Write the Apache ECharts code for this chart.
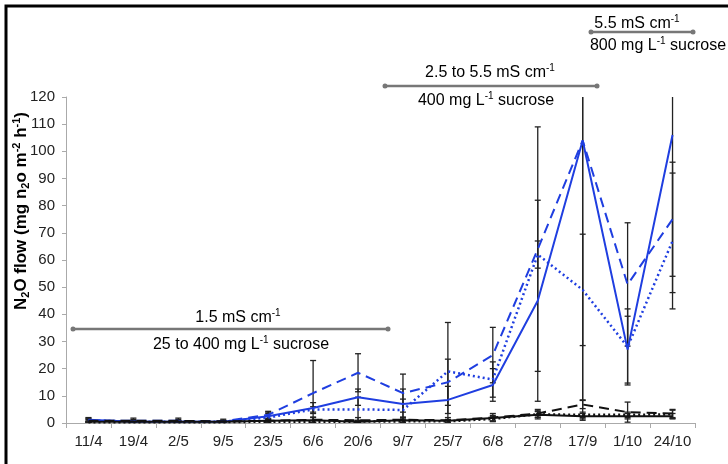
<!DOCTYPE html>
<html lang="en">
<head>
  <meta charset="UTF-8">
  <title>N2O flow</title>
  <script src="https://cdn.jsdelivr.net/npm/echarts@6/dist/echarts.min.js"></script>
  <style>
    html, body { margin: 0; padding: 0; background: #fff; }
    #main { width: 728px; height: 464px; }
  </style>
</head>
<body>
<div id="main"></div>
<script>
  // sampling dates
  var dates = ['11/4','19/4','2/5','9/5','23/5','6/6','20/6','9/7','25/7','6/8','27/8','17/9','1/10','24/10'];

  // blue treatments (value and +/- error)
  var blueSolid     = [1.2, 0.5, 0.5, 0.5, 2.5, 5.5, 9.5, 7, 8.5, 14, 45, 104, 27, 106];
  var blueSolidErr  = [0.8, 0.4, 0.4, 0.4, 1, 2, 3, 5.5, 5, 6, 37, 95.5, 12.3, 58];
  var blueDashed    = [0.8, 0.8, 0.8, 0.6, 3, 11, 18.5, 11, 15, 25, 64, 104, 51, 75];
  var blueDashedErr = [0.5, 0.5, 0.5, 0.4, 1.3, 12, 7, 7, 8.5, 10.2, 45, 103, 22.7, 21];
  var blueDotted    = [1, 0.5, 0.5, 0.5, 2, 5, 5, 4.8, 19, 16, 62, 49, 28, 67];
  var blueDottedErr = [0.5, 0.4, 0.4, 0.4, 0.8, 1, 4.5, 4, 18, 6.5, 5, 20.5, 14, 25];

  // black treatments
  var blackSolid     = [0.5, 0.5, 0.5, 0.5, 0.8, 1, 0.5, 1, 0.8, 1.8, 3, 2.5, 2.5, 2.5];
  var blackSolidErr  = [0.3, 0.3, 0.3, 0.3, 0.5, 1, 0.5, 1, 0.5, 1, 1.5, 1, 1, 1];
  var blackDashed    = [0.8, 0.8, 0.8, 0.6, 0.8, 1.2, 1, 1.2, 1, 2, 3.5, 6.8, 4, 3.5];
  var blackDashedErr = [1, 1, 1, 0.8, 3.2, 1, 1, 1, 1, 1.5, 1.5, 1.5, 3.7, 1.5];
  var blackDotted    = [0.3, 0.3, 0.3, 0.3, 0.5, 0.5, 0.5, 0.6, 0.6, 1.5, 3.2, 3, 3, 3.2];
  var blackDottedErr = [0.3, 0.3, 0.3, 0.3, 0.4, 0.4, 0.4, 0.5, 0.5, 0.8, 1, 1, 1, 1.5];

  var blue = '#1f3ee0';
  var black = '#111';
  var grey = '#777';

  var lines = [
    { name: 'b1', data: blueSolid, err: blueSolidErr, color: blue, type: 'solid', width: 2 },
    { name: 'b2', data: blueDashed, err: blueDashedErr, color: blue, type: [10, 6], width: 2 },
    { name: 'b3', data: blueDotted, err: blueDottedErr, color: blue, type: [2, 3], width: 2.5 },
    { name: 'k1', data: blackSolid, err: blackSolidErr, color: black, type: 'solid', width: 2 },
    { name: 'k2', data: blackDashed, err: blackDashedErr, color: black, type: [10, 6], width: 2 },
    { name: 'k3', data: blackDotted, err: blackDottedErr, color: black, type: [2, 3], width: 2.5 }
  ];

  function errorBar(params, api) {
    var x = api.value(0);
    var lo = api.coord([x, api.value(1)]);
    var hi = api.coord([x, api.value(2)]);
    var w = 3;
    var st = { stroke: '#222', lineWidth: 1.3 };
    return {
      type: 'group',
      children: [
        { type: 'line', shape: { x1: lo[0], y1: lo[1], x2: hi[0], y2: hi[1] }, style: st },
        { type: 'line', shape: { x1: lo[0] - w, y1: lo[1], x2: lo[0] + w, y2: lo[1] }, style: st },
        { type: 'line', shape: { x1: hi[0] - w, y1: hi[1], x2: hi[0] + w, y2: hi[1] }, style: st }
      ]
    };
  }

  var series = [];
  lines.forEach(function (l) {
    var bars = l.data.map(function (v, i) {
      return [i, Math.max(0, v - l.err[i]), v + l.err[i]];
    });
    series.push({
      type: 'custom',
      renderItem: errorBar,
      data: bars,
      clip: true,
      z: 1,
      silent: true
    });
  });
  lines.forEach(function (l) {
    series.push({
      type: 'line',
      name: l.name,
      data: l.data,
      symbol: 'none',
      z: 3,
      lineStyle: { color: l.color, width: l.width, type: l.type }
    });
  });

  var rich = {
    n: { fontFamily: 'Liberation Sans', fontSize: 16, color: grey, lineHeight: 20 },
    s: { fontFamily: 'Liberation Sans', fontSize: 10, color: grey, verticalAlign: 'top', lineHeight: 20 }
  };
  function label(x, y, str) {
    return {
      type: 'text', x: x, y: y,
      style: { text: str, rich: rich, align: 'center', verticalAlign: 'middle' }
    };
  }
  function arrow(x1, x2, y) {
    var st = { stroke: grey, lineWidth: 2.5 };
    return [
      { type: 'line', shape: { x1: x1, y1: y, x2: x2, y2: y }, style: st },
      { type: 'circle', shape: { cx: x1, cy: y, r: 2.5 }, style: { fill: grey } },
      { type: 'circle', shape: { cx: x2, cy: y, r: 2.5 }, style: { fill: grey } }
    ];
  }

  var yName = '{b|N}{bs|2}{b|O flow (mg n}{bs|2}{b|o m}{bp|-2}{b| h}{bp|-1}{b|)}';

  var graphic = [
    { type: 'rect', shape: { x: 6, y: 6, width: 760, height: 500 }, style: { fill: 'none', stroke: '#000', lineWidth: 3 } },
    {
      type: 'text', x: 21, y: 211, rotation: Math.PI / 2,
      style: {
        text: yName, align: 'center', verticalAlign: 'middle',
        rich: {
          b: { fontFamily: 'Liberation Sans', fontWeight: 'bold', fontSize: 17, color: '#111', lineHeight: 20 },
          bs: { fontFamily: 'Liberation Sans', fontWeight: 'bold', fontSize: 11, color: '#111', verticalAlign: 'bottom', lineHeight: 20 },
          bp: { fontFamily: 'Liberation Sans', fontWeight: 'bold', fontSize: 11, color: '#111', verticalAlign: 'top', lineHeight: 20 }
        }
      }
    },
    label(238, 318, '{n|1.5 mS cm}{s|-1}'),
    label(241, 345, '{n|25 to 400 mg L}{s|-1}{n| sucrose}'),
    label(490, 73, '{n|2.5 to 5.5 mS cm}{s|-1}'),
    label(486, 101, '{n|400 mg L}{s|-1}{n| sucrose}'),
    label(637, 24, '{n|5.5 mS cm}{s|-1}'),
    label(658, 46, '{n|800 mg L}{s|-1}{n| sucrose}')
  ].concat(arrow(73, 388, 329), arrow(385, 597, 86), arrow(591, 693, 32));

  var chart = echarts.init(document.getElementById('main'));
  chart.setOption({
    animation: false,
    grid: { left: 66, right: 33, top: 97, bottom: 41 },
    xAxis: {
      type: 'category',
      data: dates,
      boundaryGap: true,
      axisLine: { lineStyle: { color: '#aaa', width: 1 } },
      axisTick: { show: true, length: 5, lineStyle: { color: '#aaa' } },
      axisLabel: { interval: 0, color: '#222', fontFamily: 'Liberation Sans', fontSize: 15, margin: 11 }
    },
    yAxis: {
      type: 'value',
      min: 0, max: 120, interval: 10,
      axisLine: { show: true, lineStyle: { color: '#aaa', width: 1 } },
      axisTick: { show: true, length: 4, lineStyle: { color: '#aaa' } },
      splitLine: { show: false },
      axisLabel: { color: '#222', fontFamily: 'Liberation Sans', fontSize: 15, margin: 11 }
    },
    series: series,
    graphic: graphic
  });
</script>
</body>
</html>
